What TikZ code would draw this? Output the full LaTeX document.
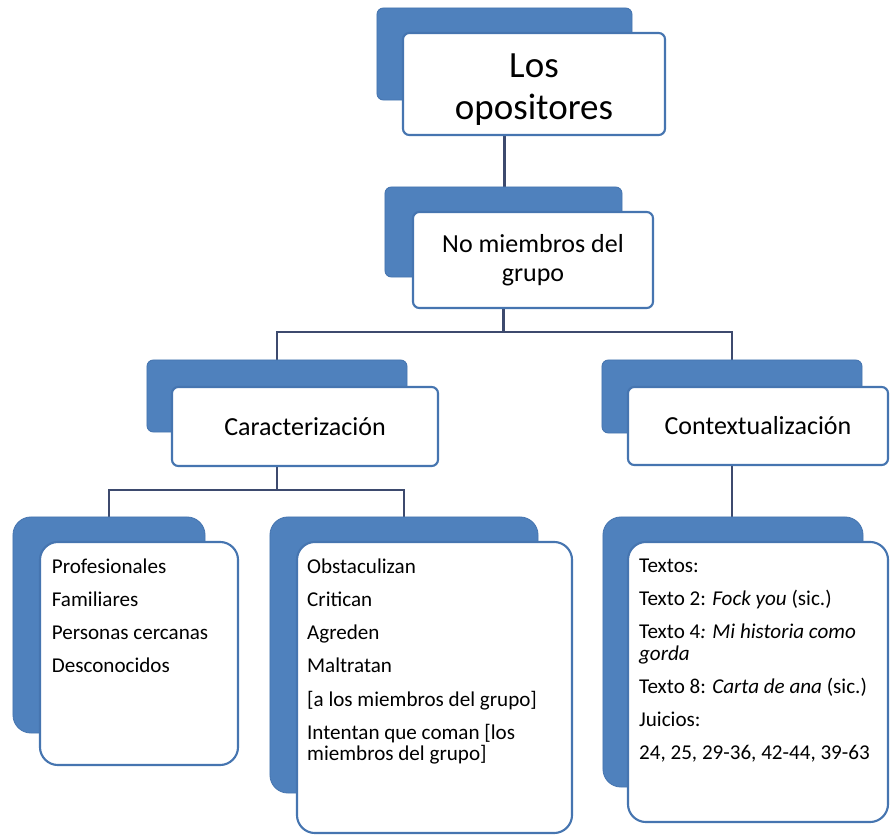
\documentclass[tikz,border=0pt]{standalone}
\usepackage{fontspec}
\setmainfont{Carlito}
\usetikzlibrary{backgrounds,positioning}
\definecolor{tierblue}{HTML}{4F81BD}
\definecolor{tieredge}{HTML}{4675B0}
\definecolor{linknavy}{HTML}{3D4A6E}

\begin{document}
\begin{tikzpicture}[x=0.025cm, y=-0.025cm,
    backbox/.style={fill=tierblue, draw=tieredge, line width=.6pt,
      rounded corners=1.6mm},
    frontbox/.style={fill=white, draw=tieredge, line width=1.5pt,
      rounded corners=1.6mm, align=center, inner sep=0pt},
    listback/.style={backbox, rounded corners=4.5mm},
    listfront/.style={frontbox, rounded corners=4.5mm},
    listtext/.style={anchor=north west, inner sep=0pt, align=left,
      font=\fontsize{15}{15.5}\selectfont},
    tiertext/.style={font=\fontsize{18.5}{21}\selectfont},
    link/.style={draw=linknavy, line width=1.5pt}
  ]
    \useasboundingbox (0,0) rectangle (890,839);

    % top
    \node[backbox, minimum width=6.375cm, minimum height=2.3cm] (opBack) at (504.5,54) {};
    \node[frontbox, minimum width=6.55cm, minimum height=2.55cm,
      font=\fontsize{26.3}{29.5}\selectfont] (opFront) at (534,84)
      {\rule{0pt}{25pt}Los\\opositores};

    \node[backbox, minimum width=5.925cm, minimum height=2.25cm] (nmBack) at (503.5,232) {};
    \node[frontbox, tiertext, minimum width=6cm, minimum height=2.4cm] (nmFront)
      at (533,260) {No miembros del\\grupo};

    % second tier
    \node[backbox, minimum width=6.5cm, minimum height=1.8cm] (carBack) at (277,396) {};
    \node[frontbox, tiertext, minimum width=6.65cm, minimum height=1.975cm] (carFront)
      at (305,426.5) {Caracterización};
    \node[backbox, minimum width=6.5cm, minimum height=1.825cm] (ctxBack) at (732,396.5) {};
    \node[frontbox, tiertext, minimum width=6.5cm, minimum height=1.95cm] (ctxFront)
      at (758,426) {Contextualización};

    % lists
    \node[listback, minimum width=4.8cm, minimum height=5.4cm] (whoBack) at (109,625) {};
    \node[listfront, minimum width=4.95cm, minimum height=5.575cm] (whoFront) at (139,653.5) {};
    \node[listtext] (whoList) at ([xshift=9pt, yshift=-12.8pt]whoFront.north west)
      {Profesionales\\[8pt]Familiares\\[8pt]Personas cercanas\\[8pt]Desconocidos};

    \node[listback, minimum width=6.7cm, minimum height=6.9cm] (actBack) at (404,655) {};
    \node[listfront, minimum width=6.875cm, minimum height=7.275cm] (actFront) at (434.5,687.5) {};
    \node[listtext] (actList) at ([xshift=7.8pt, yshift=-12.8pt]actFront.north west)
      {Obstaculizan\\[8pt]Critican\\[8pt]Agreden\\[8pt]Maltratan\\[8pt]%
       {[a los miembros del grupo]}\\[8pt]Intentan que coman [los\\miembros del grupo]};

    \node[listback, minimum width=6.5cm, minimum height=6.75cm] (srcBack) at (733,652) {};
    \node[listfront, minimum width=6.5cm, minimum height=7cm] (srcFront) at (758,682) {};
    \node[listtext] (srcList) at ([xshift=8.5pt, yshift=-12.8pt]srcFront.north west)
      {Textos:\\[8pt]Texto 2: \textit{Fock you} (sic.)\\[8pt]%
       Texto 4\textit{: Mi historia como}\\\textit{gorda}\\[8pt]%
       Texto 8: \textit{Carta de ana} (sic.)\\[8pt]Juicios:\\[8pt]%
       24, 25, 29-36, 42-44, 39-63};

    % connectors
    \begin{scope}[on background layer]
      \coordinate (nmBus) at (503.5,332);
      \coordinate (carBus) at (277,490);
      \draw[link] (opBack.center) -- (opBack.center |- nmBack.north);
      \draw[link] (nmBack.center) -- (nmBus);
      \draw[link] (carBack.center) |- (nmBus) -| (ctxBack.center);
      \draw[link] (carBack.center) -- (carBus);
      \draw[link] (whoBack.center) |- (carBus) -| (actBack.center);
      \draw[link] (ctxBack.center) -- (ctxBack.center |- srcBack.north);
    \end{scope}
  \end{tikzpicture}
\end{document}
